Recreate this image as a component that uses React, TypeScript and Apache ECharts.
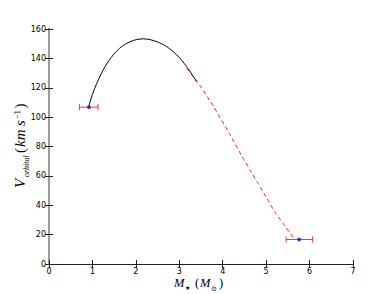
import React, { useEffect, useRef } from "react";
import * as echarts from "echarts";

const xTicks = [0, 1, 2, 3, 4, 5, 6, 7];
const yTicks = [0, 20, 40, 60, 80, 100, 120, 140, 160];

const solidX = [0.91, 1.0, 1.1, 1.29, 1.48, 1.67, 1.87, 2.02, 2.17, 2.32, 2.48, 2.71, 2.94, 3.17, 3.4];
const solidY = [106.8, 115.5, 123, 134.4, 142.4, 148, 151.4, 152.8, 153.3, 152.8, 151.4, 148, 142.4, 134.4, 124.2];

const dashedX = [3.17, 3.3, 3.48, 3.79, 3.98, 4.17, 4.43, 4.63, 4.82, 5.01, 5.21, 5.44, 5.54, 5.65];
const dashedY = [133.3, 128.3, 121.3, 107.2, 97.5, 88, 74, 64, 54.5, 45, 35, 25.6, 21.5, 17.3];

const pointX = [0.92, 5.76];
const pointY = [106.8, 16.7];
const errLow = [0.7, 5.46];
const errHigh = [1.13, 6.07];

const App = () => {
  const ref = useRef<HTMLDivElement>(null);
  useEffect(() => {
    if (!ref.current) return;
    const chart = echarts.init(ref.current, null, { renderer: "svg" });
    const gl = 49, gr = 39, gt = 29, gb = 30;
    const labelFont = "DejaVu Sans";
    const serif = '"Liberation Serif", "DejaVu Serif", serif';
    const txt = (x: number, y: number, text: string, size: number, italic: boolean) => ({
      type: "text",
      x,
      y,
      style: {
        text,
        font: `${italic ? "italic " : ""}${size}px ${serif}`,
        fill: "#000",
        align: "left",
        verticalAlign: "bottom",
        textAlign: "left",
        textVerticalAlign: "bottom",
      },
    });
    chart.setOption({
      animation: false,
      backgroundColor: "#fff",
      grid: { left: gl, right: gr, top: gt, bottom: gb, containLabel: false },
      xAxis: [
        {
          type: "value",
          min: xTicks[0],
          max: xTicks[xTicks.length - 1],
          interval: 1,
          position: "bottom",
          axisLine: { show: true, lineStyle: { color: "#222", width: 1 } },
          axisTick: { show: true, inside: true, length: 4, lineStyle: { color: "#222" } },
          axisLabel: { fontSize: 8, fontFamily: labelFont, color: "#000", margin: 3, formatter: (v: number) => String(v) },
          splitLine: { show: false },
        },
        {
          type: "value",
          min: xTicks[0],
          max: xTicks[xTicks.length - 1],
          interval: 1,
          position: "top",
          axisLine: { show: true, lineStyle: { color: "#222", width: 1 } },
          axisTick: { show: true, inside: true, length: 4, lineStyle: { color: "#222" } },
          axisLabel: { show: false },
          splitLine: { show: false },
        },
      ],
      yAxis: [
        {
          type: "value",
          min: yTicks[0],
          max: yTicks[yTicks.length - 1],
          interval: 20,
          position: "left",
          axisLine: { show: true, lineStyle: { color: "#999", width: 2 } },
          axisTick: { show: true, inside: true, length: 4, lineStyle: { color: "#222" } },
          axisLabel: { fontSize: 8, fontFamily: labelFont, color: "#000", margin: 3 },
          splitLine: { show: false },
        },
        {
          type: "value",
          min: yTicks[0],
          max: yTicks[yTicks.length - 1],
          interval: 20,
          position: "right",
          axisLine: { show: true, lineStyle: { color: "#999", width: 2 } },
          axisTick: { show: true, inside: true, length: 4, lineStyle: { color: "#222" } },
          axisLabel: { show: false },
          splitLine: { show: false },
        },
      ],
      series: [
        {
          type: "line",
          data: dashedX.map((x, i) => [x, dashedY[i]]),
          showSymbol: false,
          smooth: 0.2,
          lineStyle: { color: "#ff2020", width: 1, type: [4, 3] },
          z: 2,
        },
        {
          type: "line",
          data: solidX.map((x, i) => [x, solidY[i]]),
          showSymbol: false,
          smooth: 0.3,
          lineStyle: { color: "#000", width: 1 },
          z: 3,
        },
        {
          type: "custom",
          data: pointX.map((x, i) => [x, pointY[i], errLow[i], errHigh[i]]),
          renderItem: (params: any, api: any) => {
            const y = api.value(1);
            const p1 = api.coord([api.value(2), y]);
            const p2 = api.coord([api.value(3), y]);
            const c = 3;
            const st = { stroke: "#ff3030", lineWidth: 1 };
            return {
              type: "group",
              children: [
                { type: "line", shape: { x1: p1[0], y1: p1[1], x2: p2[0], y2: p2[1] }, style: st },
                { type: "line", shape: { x1: p1[0], y1: p1[1] - c, x2: p1[0], y2: p1[1] + c }, style: st },
                { type: "line", shape: { x1: p2[0], y1: p2[1] - c, x2: p2[0], y2: p2[1] + c }, style: st },
              ],
            };
          },
          z: 4,
        },
        {
          type: "scatter",
          data: pointX.map((x, i) => [x, pointY[i]]),
          symbol: "circle",
          symbolSize: 4,
          itemStyle: { color: "#1010ee" },
          z: 5,
        },
      ],
      graphic: [
        {
          type: "group",
          x: 22,
          y: 146,
          rotation: Math.PI / 2,
          children: [
            txt(-42, 5, "V", 15, true),
            txt(-31, 8, "orbital", 8, true),
            txt(-7, 5, "(", 15, false),
            txt(-1, 5, "km", 15, true),
            txt(20, 5, "s", 15, true),
            txt(26.5, -1, "−1", 9, false),
            txt(37.5, 5, ")", 15, false),
          ],
        },
        {
          type: "group",
          x: 0,
          y: 0,
          children: [
            txt(174, 289, "M", 12.5, true),
            txt(185, 291, "★", 6, false),
            txt(195, 289, "(", 12.5, false),
            txt(200, 289, "M", 12.5, true),
            txt(211, 292, "⊙", 7, false),
            txt(219, 289, ")", 12.5, false),
          ],
        },
      ],
    });
    return () => chart.dispose();
  }, []);
  return (
    <div
      ref={ref}
      style={{ position: "fixed", left: 0, top: 0, width: 392, height: 294, background: "#fff" }}
    />
  );
};

export default App;
